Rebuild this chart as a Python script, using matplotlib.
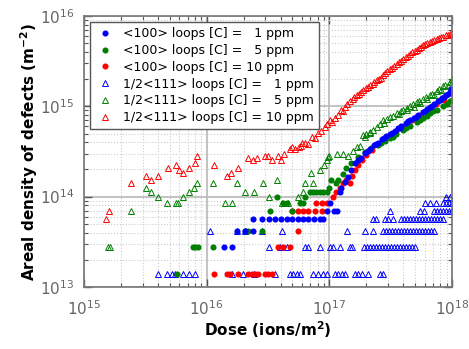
"""Areal density of <100> and 1/2<111> loops vs dose for three carbon levels."""
import matplotlib
matplotlib.use('Agg')
import matplotlib.pyplot as plt

# ---- data ---------------------------------------------------------------
# flat steps: density level -> doses at that level; then the climbing band

# <100> loops, [C] = 1 ppm (blue dots)
b_dot_steps = {
    2.8e13: [1.39e16, 1.60e16],
    4.2e13: [1.76e16, 2.05e16, 2.40e16],
    5.6e13: [2.40e16, 2.81e16, 3.22e16, 3.61e16, 4.03e16, 4.51e16, 4.96e16,
             5.52e16, 6.13e16, 6.73e16, 7.54e16, 8.38e16, 8.93e16],
    7.0e13: [9.51e16, 1.10e17, 1.15e17],
    8.4e13: [1.01e17],
}
b_dot_dose = [1.21e17, 1.25e17, 1.34e17, 1.42e17, 1.51e17, 1.61e17, 1.71e17,
              1.82e17, 1.95e17, 2.05e17, 2.14e17, 2.31e17, 2.40e17, 2.49e17,
              2.68e17, 2.80e17, 2.91e17, 3.12e17, 3.25e17, 3.41e17, 3.63e17,
              3.75e17, 3.86e17, 4.21e17, 4.35e17, 4.54e17, 4.90e17, 5.10e17,
              5.28e17, 5.79e17, 6.00e17, 6.24e17, 6.60e17, 6.90e17, 7.12e17,
              7.67e17, 7.90e17, 8.27e17, 8.60e17, 8.90e17, 9.30e17, 9.60e17,
              9.80e17, 1.00e18]
b_dot_dens = [1.12e14, 1.26e14, 1.45e14, 1.65e14, 1.96e14, 2.33e14, 2.53e14,
              2.71e14, 3.02e14, 3.20e14, 3.41e14, 3.71e14, 3.80e14, 3.90e14,
              4.32e14, 4.50e14, 4.66e14, 4.90e14, 5.10e14, 5.29e14, 5.71e14,
              5.80e14, 6.00e14, 6.49e14, 6.80e14, 7.00e14, 7.48e14, 7.70e14,
              7.95e14, 8.60e14, 8.90e14, 9.27e14, 9.73e14, 1.00e15, 1.05e15,
              1.14e15, 1.18e15, 1.23e15, 1.28e15, 1.32e15, 1.38e15, 1.43e15,
              1.55e15, 1.50e15]

# <100> loops, [C] = 5 ppm (green dots)
g_dot_steps = {
    1.4e13: [5.77e15],
    2.8e13: [7.74e15, 8.10e15, 8.50e15, 1.13e16],
    4.2e13: [2.05e16, 2.18e16, 2.84e16],
    7.0e13: [3.28e16, 4.93e16],
    8.4e13: [4.21e16, 4.51e16, 5.77e16, 6.13e16],
    9.8e13: [3.72e16, 6.33e16],
    1.12e14: [6.95e16, 7.35e16, 7.78e16, 8.38e16, 8.93e16, 9.51e16],
}
g_dot_dose = [1.00e17, 1.04e17, 1.13e17, 1.17e17, 1.29e17, 1.37e17, 1.51e17,
              1.71e17, 1.94e17, 2.19e17, 2.49e17, 2.65e17, 2.84e17, 3.12e17,
              3.30e17, 3.49e17, 3.98e17, 4.20e17, 4.54e17, 5.18e17, 5.50e17,
              5.79e17, 6.20e17, 6.60e17, 7.00e17, 7.54e17, 8.43e17, 9.00e17,
              9.60e17, 1.00e18]
g_dot_dens = [1.23e14, 1.52e14, 1.41e14, 1.52e14, 1.80e14, 2.05e14, 2.33e14,
              2.73e14, 3.10e14, 3.44e14, 3.71e14, 3.90e14, 4.10e14, 4.43e14,
              4.60e14, 4.90e14, 5.43e14, 5.80e14, 6.00e14, 6.66e14, 7.00e14,
              7.37e14, 7.80e14, 8.38e14, 8.80e14, 9.04e14, 1.00e15, 1.05e15,
              1.14e15, 1.19e15]

# <100> loops, [C] = 10 ppm (red dots)
r_dot_steps = {
    1.4e13: [1.15e16, 1.47e16, 1.55e16, 1.81e16, 2.18e16, 2.33e16, 2.48e16,
             2.63e16, 2.99e16, 3.18e16, 3.39e16],
    2.8e13: [3.83e16, 4.21e16, 4.78e16],
    4.2e13: [5.58e16],
    7.0e13: [4.99e16, 5.55e16, 6.10e16, 6.73e16, 7.64e16, 8.66e16],
    8.4e13: [7.78e16, 8.66e16, 9.57e16],
}
r_dot_dose = [1.07e17, 1.13e17, 1.22e17, 1.29e17, 1.37e17, 1.46e17, 1.53e17,
              1.62e17, 1.71e17, 1.84e17, 1.99e17, 2.23e17, 2.59e17, 3.00e17,
              3.49e17, 4.06e17, 4.72e17, 5.48e17, 6.36e17, 7.40e17, 8.60e17,
              1.00e18]
r_dot_dens = [9.8e13, 1.12e14, 1.26e14, 1.40e14, 1.54e14, 1.40e14, 1.68e14,
              1.96e14, 2.23e14, 2.53e14, 2.87e14, 3.26e14, 3.90e14, 4.55e14,
              5.29e14, 6.00e14, 7.00e14, 7.95e14, 9.04e14, 1.05e15, 1.19e15,
              1.39e15]

# 1/2<111> loops, [C] = 1 ppm (blue triangles)
b_tri_steps = {
    1.4e13: [4.03e15, 4.73e15, 5.18e15, 5.52e15, 6.45e15, 7.17e15, 8.00e15,
             1.60e16, 1.99e16, 2.44e16, 3.61e16, 4.78e16, 5.08e16, 5.41e16,
             5.77e16, 7.39e16, 8.10e16, 8.93e16, 9.51e16, 1.11e17, 1.18e17,
             1.26e17, 1.34e17, 1.62e17, 1.72e17, 1.83e17, 2.07e17, 2.59e17,
             2.72e17],
    2.8e13: [3.22e16, 3.96e16, 4.51e16, 6.33e16, 6.73e16, 8.38e16, 1.01e17,
             1.07e17, 1.22e17, 1.47e17, 1.53e17, 1.91e17, 2.03e17, 2.14e17,
             2.27e17, 2.40e17, 2.54e17, 2.68e17, 2.84e17, 3.00e17, 3.18e17,
             3.36e17, 3.56e17, 3.76e17, 3.98e17, 4.21e17, 4.46e17, 4.72e17,
             4.99e17],
    4.2e13: [1.06e16, 1.76e16, 2.05e16, 2.84e16, 4.11e16, 1.39e17, 1.95e17,
             2.25e17, 2.73e17, 2.89e17, 3.05e17, 3.24e17, 3.42e17, 3.63e17,
             3.84e17, 4.06e17, 4.29e17, 4.54e17, 4.81e17, 5.08e17, 5.38e17,
             5.69e17, 6.02e17, 6.36e17, 6.73e17, 7.12e17],
    5.6e13: [2.27e17, 2.41e17, 2.82e17, 3.00e17, 3.30e17, 3.84e17, 4.06e17,
             4.29e17, 4.54e17, 4.81e17, 5.08e17, 5.38e17, 5.69e17, 6.02e17,
             6.36e17, 6.73e17, 7.12e17, 7.54e17, 7.97e17, 8.43e17],
    7.0e13: [3.12e17, 5.48e17, 5.92e17, 7.12e17, 7.54e17, 7.97e17, 8.43e17,
             8.90e17, 9.41e17, 1.00e18],
    8.4e13: [6.02e17, 6.60e17, 7.46e17, 8.43e17, 8.90e17, 9.41e17, 1.00e18],
    9.8e13: [8.95e17, 9.60e17],
}

# 1/2<111> loops, [C] = 5 ppm (green triangles)
g_tri_dose = [1.56e15, 1.63e15, 2.40e15, 3.18e15, 3.50e15, 4.03e15, 4.77e15,
              5.60e15, 5.80e15, 6.40e15, 7.20e15, 7.90e15, 8.40e15, 1.13e16,
              1.42e16, 1.60e16, 1.78e16, 2.05e16, 2.43e16, 2.86e16, 3.24e16,
              3.72e16, 4.08e16, 4.62e16, 5.52e16, 6.05e16, 6.33e16, 7.08e16,
              7.40e16, 8.38e16, 9.04e16, 9.51e16, 9.80e16, 1.00e17, 1.15e17,
              1.29e17, 1.42e17, 1.56e17, 1.67e17, 1.77e17, 1.89e17, 1.94e17,
              2.00e17, 2.13e17, 2.14e17, 2.28e17, 2.43e17, 2.60e17, 2.75e17,
              2.80e17, 2.95e17, 3.12e17, 3.30e17, 3.53e17, 3.70e17, 3.80e17,
              4.00e17, 4.25e17, 4.30e17, 4.54e17, 4.80e17, 4.90e17, 5.14e17,
              5.40e17, 5.50e17, 5.82e17, 6.10e17, 6.30e17, 6.60e17, 6.90e17,
              7.10e17, 7.48e17, 7.80e17, 8.10e17, 8.47e17, 8.80e17, 9.20e17,
              9.60e17, 1.00e18, 1.00e18]
g_tri_dens = [2.8e13, 2.8e13, 7.0e13, 1.26e14, 1.12e14, 9.8e13, 8.4e13,
              8.4e13, 8.4e13, 9.8e13, 1.12e14, 1.26e14, 1.40e14, 1.40e14,
              8.4e13, 8.4e13, 1.40e14, 1.12e14, 1.12e14, 1.40e14, 9.8e13,
              1.54e14, 8.4e13, 8.4e13, 9.8e13, 1.12e14, 1.40e14, 1.82e14,
              1.40e14, 1.96e14, 2.24e14, 2.52e14, 2.75e14, 2.80e14, 3.00e14,
              3.00e14, 2.80e14, 3.22e14, 3.50e14, 3.64e14, 4.76e14, 4.62e14,
              4.90e14, 5.04e14, 5.20e14, 5.50e14, 5.90e14, 6.30e14, 7.00e14,
              6.60e14, 7.20e14, 7.60e14, 7.90e14, 8.40e14, 8.20e14, 8.90e14,
              9.20e14, 9.60e14, 9.00e14, 1.00e15, 1.05e15, 9.90e14, 1.12e15,
              1.16e15, 1.10e15, 1.22e15, 1.28e15, 1.20e15, 1.32e15, 1.38e15,
              1.32e15, 1.48e15, 1.55e15, 1.50e15, 1.66e15, 1.72e15, 1.70e15,
              1.86e15, 2.00e15, 1.85e15]

# 1/2<111> loops, [C] = 10 ppm (red triangles)
r_tri_dose = [1.50e15, 1.60e15, 2.40e15, 3.20e15, 3.50e15, 4.00e15, 4.80e15,
              5.60e15, 5.90e15, 6.40e15, 7.20e15, 8.00e15, 8.30e15, 1.15e16,
              1.46e16, 1.58e16, 1.81e16, 2.18e16, 2.37e16, 2.58e16, 2.99e16,
              3.14e16, 3.42e16, 3.83e16, 4.03e16, 4.29e16, 4.77e16, 4.98e16,
              5.25e16, 5.65e16, 5.90e16, 6.00e16, 6.33e16, 6.73e16, 7.17e16,
              7.60e16, 8.12e16, 8.60e16, 9.20e16, 9.60e16, 1.01e17, 1.05e17,
              1.11e17, 1.17e17, 1.24e17, 1.29e17, 1.34e17, 1.40e17, 1.47e17,
              1.55e17, 1.60e17, 1.67e17, 1.75e17, 1.80e17, 1.89e17, 1.97e17,
              2.05e17, 2.14e17, 2.25e17, 2.33e17, 2.43e17, 2.53e17, 2.62e17,
              2.75e17, 2.85e17, 2.97e17, 3.12e17, 3.25e17, 3.38e17, 3.53e17,
              3.70e17, 3.85e17, 4.00e17, 4.20e17, 4.35e17, 4.54e17, 4.75e17,
              4.95e17, 5.14e17, 5.35e17, 5.60e17, 5.82e17, 6.05e17, 6.30e17,
              6.60e17, 6.85e17, 7.15e17, 7.48e17, 7.80e17, 8.10e17, 8.47e17,
              8.85e17, 9.20e17, 9.60e17, 1.00e18]
r_tri_dens = [5.6e13, 7.0e13, 1.40e14, 1.68e14, 1.54e14, 1.68e14, 2.10e14,
              2.24e14, 1.96e14, 1.82e14, 2.10e14, 2.38e14, 2.80e14, 2.24e14,
              1.68e14, 1.82e14, 2.10e14, 2.66e14, 2.52e14, 2.66e14, 2.80e14,
              2.80e14, 2.52e14, 2.80e14, 2.52e14, 2.94e14, 3.36e14, 3.50e14,
              3.36e14, 3.50e14, 3.60e14, 3.92e14, 3.92e14, 3.78e14, 4.60e14,
              4.50e14, 5.07e14, 5.30e14, 5.90e14, 6.30e14, 7.00e14, 6.70e14,
              7.50e14, 8.00e14, 9.00e14, 8.80e14, 9.80e14, 1.05e15, 1.16e15,
              1.20e15, 1.26e15, 1.32e15, 1.38e15, 1.45e15, 1.50e15, 1.58e15,
              1.62e15, 1.71e15, 1.78e15, 1.88e15, 1.94e15, 2.02e15, 2.08e15,
              2.20e15, 2.32e15, 2.44e15, 2.61e15, 2.68e15, 2.82e15, 2.96e15,
              3.10e15, 3.20e15, 3.37e15, 3.55e15, 3.65e15, 3.82e15, 3.98e15,
              4.10e15, 4.23e15, 4.38e15, 4.58e15, 4.72e15, 4.85e15, 5.00e15,
              5.13e15, 5.30e15, 5.42e15, 5.60e15, 5.72e15, 5.82e15, 5.93e15,
              6.10e15, 6.20e15, 6.35e15, 6.50e15]

labels = ['<100> loops [C] =   1 ppm', '<100> loops [C] =   5 ppm',
          '<100> loops [C] = 10 ppm', '1/2<111> loops [C] =   1 ppm',
          '1/2<111> loops [C] =   5 ppm', '1/2<111> loops [C] = 10 ppm']


def flatten(steps, dose=(), dens=()):
    xs, ys = [], []
    for level, doses in steps.items():
        xs += doses
        ys += [level] * len(doses)
    return xs + list(dose), ys + list(dens)


fig = plt.figure(figsize=(4.69, 3.49), dpi=100)
ax = fig.add_axes([0.179, 0.178, 0.785, 0.776])

tri = dict(ls='none', marker='^', ms=4.4, mfc='none', mew=0.7)
dot = dict(ls='none', marker='o', ms=4.4, mew=0)

x, y = flatten(b_tri_steps)
h4, = ax.plot(x, y, color='#0000ff', label=labels[3], **tri)
h5, = ax.plot(g_tri_dose, g_tri_dens, color='#008000', label=labels[4], **tri)
h6, = ax.plot(r_tri_dose, r_tri_dens, color='#ff0000', label=labels[5], **tri)
x, y = flatten(r_dot_steps, r_dot_dose, r_dot_dens)
h3, = ax.plot(x, y, color='#ff0000', label=labels[2], **dot)
x, y = flatten(g_dot_steps, g_dot_dose, g_dot_dens)
h2, = ax.plot(x, y, color='#008000', label=labels[1], **dot)
x, y = flatten(b_dot_steps, b_dot_dose, b_dot_dens)
h1, = ax.plot(x, y, color='#0000ff', label=labels[0], **dot)

ax.set_xscale('log')
ax.set_yscale('log')
ax.set_xlim(1e15, 1e18)
ax.set_ylim(1e13, 1e16)
ax.set_axisbelow(True)
ax.grid(which='major', color='#bdbdbd', lw=1.3)
ax.grid(which='minor', color='#cccccc', ls=':', lw=0.8)
ax.tick_params(which='both', direction='in', top=True, right=True,
               colors='#555555', labelcolor='#666666', labelsize=11)
ax.tick_params(which='major', length=6, width=1.0)
ax.tick_params(which='minor', length=3, width=0.8)
ax.tick_params(axis='x', which='major', pad=9)
ax.tick_params(axis='y', which='major', pad=7)
for s in ax.spines.values():
    s.set_color('#777777')
    s.set_linewidth(1.2)

ax.set_xlabel('Dose (ions/m$^{\\mathbf{2}}$)', fontsize=11, fontweight='bold', labelpad=1)
ax.set_ylabel('Areal density of defects (m$^{\\mathbf{-2}}$)', fontsize=11,
              fontweight='bold', labelpad=0)

leg = ax.legend(handles=[h1, h2, h3, h4, h5, h6], loc='upper left', fontsize=9,
                fancybox=False, framealpha=1, edgecolor='#555555',
                borderaxespad=0.5, labelspacing=0.3, handletextpad=0.6,
                handlelength=1.6, borderpad=0.4)
leg.get_frame().set_linewidth(1.0)

fig.savefig('out.png', dpi=100)
